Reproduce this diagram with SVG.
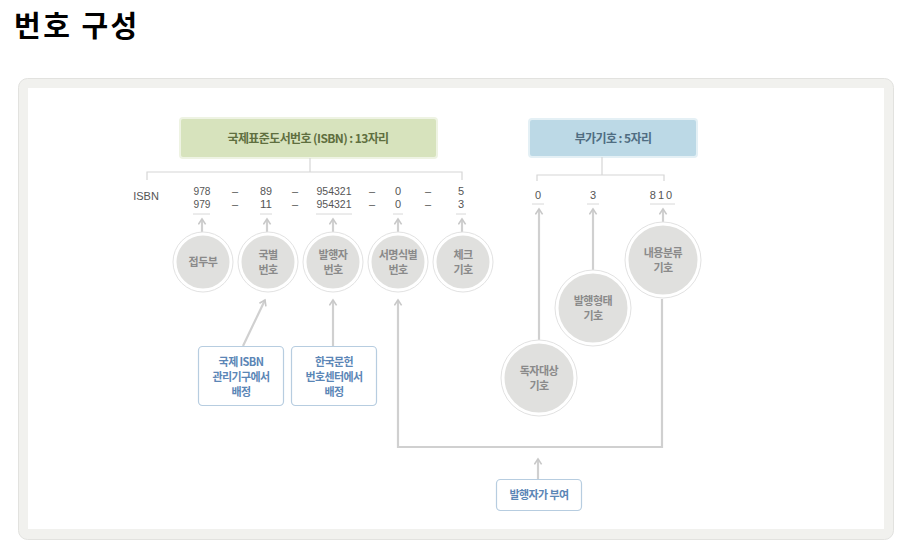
<svg xmlns="http://www.w3.org/2000/svg" width="905" height="547" viewBox="0 0 905 547">
<defs>
<marker id="ah" viewBox="0 0 10 10" refX="8" refY="5" markerWidth="9" markerHeight="9" orient="auto" markerUnits="userSpaceOnUse">
<path d="M2,1 L8,5 L2,9" fill="none" stroke="#c8c8c8" stroke-width="1.8" stroke-linejoin="miter"/>
</marker>
<style>
.kr{font-family:"Noto Sans CJK KR","Noto Sans",sans-serif;}
.num{font-family:"Liberation Sans",Arial,sans-serif;font-size:11px;fill:#555;text-anchor:middle;}
.cn{font-family:"Noto Sans CJK KR",sans-serif;font-size:11px;font-weight:bold;fill:#8a8a8a;text-anchor:middle;letter-spacing:-0.5px;}
.bt{font-family:"Noto Sans CJK KR",sans-serif;font-size:11px;font-weight:bold;fill:#5b86b6;text-anchor:middle;letter-spacing:-0.6px;}
.thin{fill:none;stroke:#d6d6d6;stroke-width:1.2;}
.ul{stroke:#d8d8d8;stroke-width:1;}
.arr{fill:none;stroke:#d0d0d0;stroke-width:2.2;marker-end:url(#ah);}
.cf{fill:#e0e0de;stroke:#ffffff;stroke-width:3;}
.co{fill:none;stroke:#e2e2e2;stroke-width:1;}
.bx{fill:#ffffff;stroke:#b7cde0;stroke-width:1.2;}
</style>
</defs>
<rect x="0" y="0" width="905" height="547" fill="#ffffff"/>
<text x="14" y="37" class="kr" font-size="29" font-weight="bold" fill="#000" letter-spacing="2.5">번호 구성</text>

<g id="frame">
<rect x="18.5" y="78.5" width="875" height="461" rx="9" fill="#f1f1ee" stroke="#e2e2df" stroke-width="1"/>
<rect x="28" y="88" width="856" height="441" fill="#ffffff"/>
</g>

<g id="isbn-box">
<rect x="180" y="118" width="257" height="40" rx="3" fill="#d7e3bd" stroke="#eef3e3" stroke-width="2"/>
<text x="308" y="143" class="kr" font-size="12" font-weight="bold" fill="#5f6f3f" text-anchor="middle" letter-spacing="-0.6">국제표준도서번호 (ISBN) : 13자리</text>
</g>

<g id="add-box">
<rect x="529" y="119" width="168" height="38" rx="3" fill="#bcd9e6" stroke="#e4f0f5" stroke-width="2"/>
<text x="613" y="143" class="kr" font-size="12" font-weight="bold" fill="#4f6d82" text-anchor="middle" letter-spacing="-0.6">부가기호 : 5자리</text>
</g>

<g id="numbers">
<text x="146" y="200" class="num" font-size="13">ISBN</text>
<text class="num"><tspan x="202" y="194.5" textLength="17" lengthAdjust="spacingAndGlyphs">978</tspan><tspan x="202" y="207.5" textLength="17" lengthAdjust="spacingAndGlyphs">979</tspan></text>
<text class="num"><tspan x="235" y="194.5">–</tspan><tspan x="235" y="207.5">–</tspan></text>
<text class="num"><tspan x="266" y="194.5" textLength="12" lengthAdjust="spacingAndGlyphs">89</tspan><tspan x="266" y="207.5" textLength="12" lengthAdjust="spacingAndGlyphs">11</tspan></text>
<text class="num"><tspan x="295" y="194.5">–</tspan><tspan x="295" y="207.5">–</tspan></text>
<text class="num"><tspan x="334" y="194.5" textLength="35" lengthAdjust="spacingAndGlyphs">954321</tspan><tspan x="334" y="207.5" textLength="35" lengthAdjust="spacingAndGlyphs">954321</tspan></text>
<text class="num"><tspan x="372" y="194.5">–</tspan><tspan x="372" y="207.5">–</tspan></text>
<text class="num"><tspan x="398" y="194.5">0</tspan><tspan x="398" y="207.5">0</tspan></text>
<text class="num"><tspan x="428" y="194.5">–</tspan><tspan x="428" y="207.5">–</tspan></text>
<text class="num"><tspan x="461" y="194.5">5</tspan><tspan x="461" y="207.5">3</tspan></text>
<text x="538" y="199" class="num" font-size="13">0</text>
<text x="593" y="199" class="num" font-size="13">3</text>
<text x="662" y="199" class="num" font-size="13" letter-spacing="2">810</text>
<line x1="193" y1="214" x2="210" y2="214" class="ul"/>
<line x1="260" y1="214" x2="272" y2="214" class="ul"/>
<line x1="316" y1="214" x2="352" y2="214" class="ul"/>
<line x1="393" y1="214" x2="403" y2="214" class="ul"/>
<line x1="456" y1="214" x2="466" y2="214" class="ul"/>
<line x1="532" y1="204" x2="544" y2="204" class="ul"/>
<line x1="587" y1="204" x2="599" y2="204" class="ul"/>
<line x1="650" y1="204" x2="675" y2="204" class="ul"/>
</g>

<g id="connectors">
<path d="M310,158 V172 M147,180 V172 H462 V180" class="thin"/>
<path d="M602,157 V175 M537,181 V175 H664 V181" class="thin"/>
<path d="M202,232 V219" class="arr"/>
<path d="M267,232 V219" class="arr"/>
<path d="M333,232 V219" class="arr"/>
<path d="M398,232 V219" class="arr"/>
<path d="M462,232 V219" class="arr"/>
<path d="M243,346 L265,300" class="arr"/>
<path d="M333,346 V300" class="arr"/>
<path d="M662,299 V447 H398 V300" class="arr"/>
<path d="M539,340 V209" class="arr"/>
<path d="M593,270 V209" class="arr"/>
<path d="M663,222 V209" class="arr"/>
<path d="M538,479 V459" class="arr"/>
</g>

<g id="n-prefix">
<circle cx="203" cy="262" r="28" class="cf"/><circle cx="203" cy="262" r="30" class="co"/>
<text x="203" y="266" class="cn">접두부</text>
</g>
<g id="n-country">
<circle cx="268" cy="262" r="28" class="cf"/><circle cx="268" cy="262" r="30" class="co"/>
<text x="268" y="259" class="cn">국별</text><text x="268" y="274" class="cn">번호</text>
</g>
<g id="n-publisher">
<circle cx="333" cy="262" r="28" class="cf"/><circle cx="333" cy="262" r="30" class="co"/>
<text x="333" y="259" class="cn">발행자</text><text x="333" y="274" class="cn">번호</text>
</g>
<g id="n-title">
<circle cx="398" cy="262" r="28" class="cf"/><circle cx="398" cy="262" r="30" class="co"/>
<text x="398" y="259" class="cn">서명식별</text><text x="398" y="274" class="cn">번호</text>
</g>
<g id="n-check">
<circle cx="463" cy="262" r="28" class="cf"/><circle cx="463" cy="262" r="30" class="co"/>
<text x="463" y="259" class="cn">체크</text><text x="463" y="274" class="cn">기호</text>
</g>
<g id="n-reader">
<circle cx="539" cy="378" r="36" class="cf"/><circle cx="539" cy="378" r="38" class="co"/>
<text x="539" y="375" class="cn">독자대상</text><text x="539" y="390" class="cn">기호</text>
</g>
<g id="n-form">
<circle cx="593" cy="308" r="36" class="cf"/><circle cx="593" cy="308" r="38" class="co"/>
<text x="593" y="305" class="cn">발행형태</text><text x="593" y="320" class="cn">기호</text>
</g>
<g id="n-class">
<circle cx="663" cy="260" r="36" class="cf"/><circle cx="663" cy="260" r="38" class="co"/>
<text x="663" y="257" class="cn">내용분류</text><text x="663" y="272" class="cn">기호</text>
</g>

<g id="b-intl">
<rect x="198.5" y="346.5" width="85" height="59" rx="4" class="bx"/>
<text x="241" y="366" class="bt">국제 ISBN</text>
<text x="241" y="381" class="bt">관리기구에서</text>
<text x="241" y="396" class="bt">배정</text>
</g>
<g id="b-korea">
<rect x="291.5" y="346.5" width="85" height="59" rx="4" class="bx"/>
<text x="334" y="366" class="bt">한국문헌</text>
<text x="334" y="381" class="bt">번호센터에서</text>
<text x="334" y="396" class="bt">배정</text>
</g>
<g id="b-pub">
<rect x="496.5" y="479.5" width="85" height="31" rx="4" class="bx"/>
<text x="539" y="499" class="bt">발행자가 부여</text>
</g>
</svg>
